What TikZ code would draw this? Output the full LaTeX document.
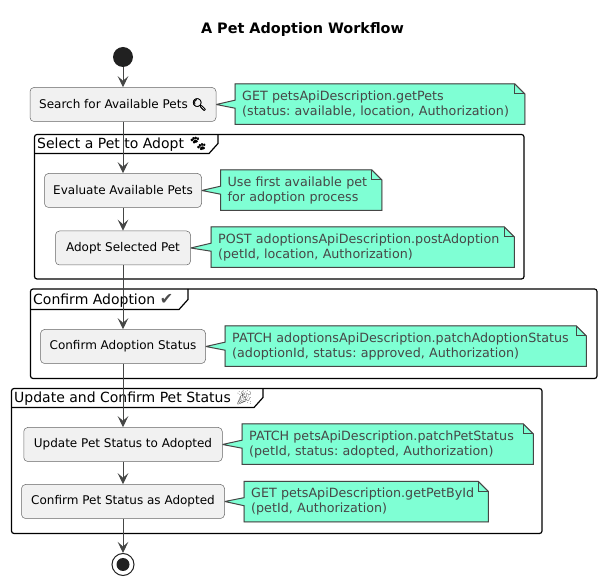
\documentclass[tikz,border=0pt]{standalone}
\usepackage{fontspec}
\setmainfont{DejaVu Sans}
\newfontfamily\emojifont{Noto Emoji}
\newfontfamily\emojibold[FakeBold=2.5]{Noto Emoji}
\newfontfamily\checkfont{DejaVu Sans}
\usetikzlibrary{arrows.meta,backgrounds}
\definecolor{noteFill}{HTML}{7FFFD4}
\definecolor{noteLine}{HTML}{454645}
\definecolor{boxFill}{HTML}{F1F1F1}
\frenchspacing
\tikzset{
actbox/.style={draw=black!60,fill=boxFill,rounded corners=4pt,line width=0.5pt,minimum height=34pt,inner sep=0pt,font=\fontsize{12}{14}\selectfont},
flow/.style={draw=noteLine,line width=1pt,-{Stealth[length=11pt,width=10.5pt,inset=4.5pt]}},
notebox/.style={anchor=north west,minimum height=40pt,inner xsep=7pt,inner ysep=0pt,align=left,text=black!72,font=\fontsize{12.7}{15}\selectfont},
notepath/.style={draw=noteLine,fill=noteFill,line width=1pt,line join=miter},
frameline/.style={draw=black,line width=1.2pt},
}
% name, activity, left, top, width, text
\newcommand{\drawNote}[6]{
\node[notebox,text width=#5pt-14pt] (#1) at (#3,#4) {#6};
\begin{pgfonlayer}{background}
\path (#1.north east) ++(-10pt,0) coordinate (#1a) ++(10pt,-10pt) coordinate (#1b);
\path (#1.west) ++(0,4pt) coordinate (#1c) ++(0,-8pt) coordinate (#1d);
\draw[notepath,draw=black!25,fill=black!25,xshift=1pt,yshift=-1pt] (#1.north west) -- (#1a) -- (#1b) -- (#1.south east) -- (#1.south west) -- cycle;
\draw[notepath] (#1.north west) -- (#1a) -- (#1b) -- (#1.south east) -- (#1.south west) -- (#1d) -- (#2.east) -- (#1c) -- cycle;
\draw[noteLine,line width=1pt] (#1a) |- (#1b);
\end{pgfonlayer}
}
% left, top, right, bottom, tab right, tab bottom, title
\newcommand{\drawFrame}[7]{
\draw[frameline,rounded corners=2.5pt] (#1,#2) rectangle (#3,#4);
\draw[frameline] (#1,#6) -- (#5-9,#6) -- (#5,#6-10) -- (#5,#2);
\node[anchor=base west,inner sep=0pt,font=\fontsize{14}{16}\selectfont] at (#1+2.5,#6-5) {#7};
}
\begin{document}
\begin{tikzpicture}[x=1pt,y=-1pt]
\useasboundingbox (0,0) rectangle (606,585);
\node[font=\bfseries\fontsize{14.4}{16}\selectfont] (title) at (302.5,29.5) {A Pet Adoption Workflow};
\drawFrame{34.5}{134.5}{524}{279}{218}{153.5}{Select a Pet to Adopt {\emojibold\fontsize{15}{16}\selectfont\symbol{"1F43E}}}
\drawFrame{30.5}{289}{597}{378.5}{188}{309.5}{Confirm Adoption {\checkfont\fontsize{16}{16}\selectfont\textcolor{black!70}{\symbol{"2714}}}}
\drawFrame{11.5}{388.5}{542}{533.5}{263}{407.5}{Update and Confirm Pet Status {\emojifont\textcolor{black!60}{\symbol{"1F389}}}}
\node[circle,fill=black!87,minimum size=20pt,inner sep=0pt] (start) at (123,57) {};
\node[actbox,minimum width=186pt] (search) at (123,104.5) {Search for Available Pets {\emojibold\symbol{"1F50D}}};
\node[actbox,minimum width=157pt] (evaluate) at (123,190.5) {Evaluate Available Pets};
\node[actbox,minimum width=135pt] (adopt) at (123,248) {Adopt Selected Pet};
\node[actbox,minimum width=165pt] (confirm) at (123,346.5) {Confirm Adoption Status};
\node[actbox,minimum width=198.5pt] (update) at (123,444.5) {Update Pet Status to Adopted};
\node[actbox,minimum width=203pt] (verify) at (123,501.5) {Confirm Pet Status as Adopted};
\node[circle,draw=black!87,fill=white,line width=1pt,minimum size=22pt,inner sep=0pt] (stop) at (123,564.5) {};
\node[circle,fill=black!87,minimum size=13pt,inner sep=0pt] (stopdot) at (stop) {};
\drawNote{noteA}{search}{235}{84}{289.5}{GET petsApiDescription.getPets\\(status: available, location, Authorization)}
\drawNote{noteB}{evaluate}{220.5}{170}{161}{Use first available pet\\for adoption process}
\drawNote{noteC}{adopt}{211}{227}{303}{POST adoptionsApiDescription.postAdoption\\(petId, location, Authorization)}
\drawNote{noteD}{confirm}{225}{326}{361}{PATCH adoptionsApiDescription.patchAdoptionStatus\\(adoptionId, status: approved, Authorization)}
\drawNote{noteE}{update}{242}{424}{291}{PATCH petsApiDescription.patchPetStatus\\(petId, status: adopted, Authorization)}
\drawNote{noteF}{verify}{244}{481.5}{244}{GET petsApiDescription.getPetById\\(petId, Authorization)}
\draw[flow] (start) -- (search);
\draw[flow] (search) -- (evaluate);
\draw[flow] (evaluate) -- (adopt);
\draw[flow] (adopt) -- (confirm);
\draw[flow] (confirm) -- (update);
\draw[flow] (update) -- (verify);
\draw[flow] (verify) -- (stop);
\end{tikzpicture}
\end{document}
